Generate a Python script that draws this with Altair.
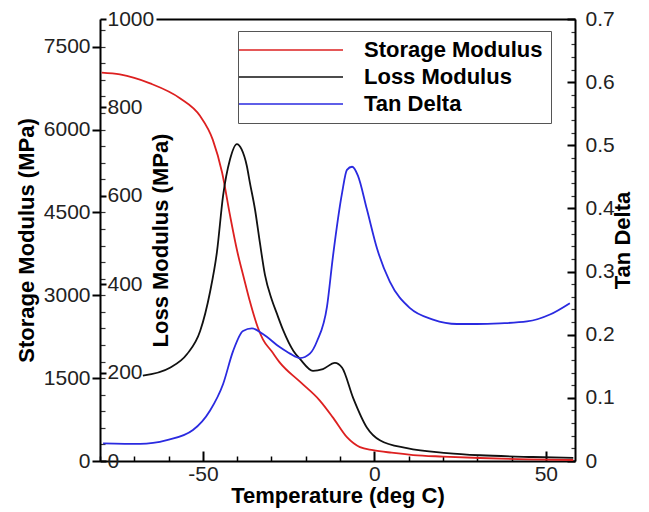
import altair as alt
import pandas as pd

# ---------------- data ----------------
temp_storage = [-79.5, -74.2, -65.4, -56.7, -50.8, -47.1, -44.4, -42.1, -40.0, -38.0,
                -36.3, -34.0, -32.5, -30.0, -27.5, -21.7, -15.9, -12.1, -8.0, -4.2,
                -0.4, 5.0, 11.3, 20.0, 30.8, 45.0, 58.0]
storage_mpa = [7030, 6997, 6835, 6566, 6243, 5813, 5221, 4449, 3800, 3300,
               2890, 2420, 2200, 1990, 1776, 1435, 1094, 789, 431, 251,
               197, 150, 108, 80, 54, 30, 18]

temp_loss = [-67.5, -59.6, -54.6, -50.8, -47.9, -45.9, -44.1, -42.1, -40.1, -38.7,
             -37.2, -36.3, -34.8, -33.4, -31.9, -29.9, -28.5, -26.6, -23.6, -21.7,
             -17.9, -15.0, -11.5, -9.4, -6.2, -2.2, 1.6, 9.5, 21.2, 30.8, 46.2, 58.0]
loss_mpa = [193, 211, 242, 294, 383, 473, 601, 682, 717, 705,
            668, 630, 569, 495, 421, 365, 335, 296, 249, 231,
            204, 208, 222, 211, 143, 76, 47, 29, 18, 13, 9, 7]

temp_tan = [-79.1, -68.3, -60.5, -52.9, -47.9, -44.1, -41.2, -38.3, -35.7, -32.5,
            -27.5, -24.6, -21.7, -18.8, -16.7, -13.8, -12.1, -9.4, -8.0, -6.5,
            -4.8, -2.2, 0.8, 4.5, 10.4, 17.1, 24.1, 29.9, 36.6, 44.5, 51.2, 57.0]
tan_delta = [0.028, 0.027, 0.033, 0.049, 0.080, 0.122, 0.174, 0.206, 0.210, 0.201,
             0.180, 0.170, 0.163, 0.170, 0.190, 0.245, 0.323, 0.425, 0.461, 0.466,
             0.452, 0.399, 0.336, 0.284, 0.242, 0.224, 0.217, 0.217, 0.218, 0.221, 0.232, 0.250]

series_names = ["Storage Modulus", "Loss Modulus", "Tan Delta"]
series_colors = ["#dd2020", "#111111", "#2a2ae0"]

x_ticks = [-50, 0, 50]
x_minor = [-80, -70, -60, -40, -30, -20, -10, 10, 20, 30, 40]
storage_ticks = [0, 1500, 3000, 4500, 6000, 7500]
storage_minor = [v for v in range(0, 8001, 300)]
loss_ticks = [0, 200, 400, 600, 800, 1000]
tan_ticks = [0, 0.1, 0.2, 0.3, 0.4, 0.5, 0.6, 0.7]
tan_minor = [round(i * 0.02, 2) for i in range(36)]

# ---------------- tables ----------------
df_s = pd.DataFrame({"T": temp_storage, "v": storage_mpa, "series": series_names[0]})
df_l = pd.DataFrame({"T": temp_loss, "v": loss_mpa, "series": series_names[1]})
df_t = pd.DataFrame({"T": temp_tan, "v": tan_delta, "series": series_names[2]})

FONT = "Liberation Sans"
W, H = 475, 442
XDOM = [-80, 58.5]
LBL = "'' + datum.value"

xscale = alt.Scale(domain=XDOM, nice=False, zero=False)
s_scale = alt.Scale(domain=[0, 8000], nice=False, zero=False)
l_scale = alt.Scale(domain=[0, 1000], nice=False, zero=False)
t_scale = alt.Scale(domain=[0, 0.7], nice=False, zero=False)

legend = alt.Legend(
    orient="none", legendX=138, legendY=12, title=None,
    symbolType="M-1.8,0H8.6", symbolSize=400, symbolStrokeWidth=1.6,
    labelFont=FONT, labelFontSize=22, labelFontWeight="bold", labelColor="black",
    labelOffset=96, rowPadding=5, padding=8, labelLimit=400,
    strokeColor="#555555", fillColor="white",
)
color = alt.Color("series:N",
                  scale=alt.Scale(domain=series_names, range=series_colors),
                  legend=legend)

common_lbl = dict(labelFont=FONT, labelFontSize=21, labelColor="#222222",
                  titleFont=FONT, titleFontSize=22, titleFontWeight="bold",
                  titleColor="black", grid=False, labelExpr=LBL)

# Storage modulus (left outer axis, bottom x axis)
storage = alt.Chart(df_s).mark_line(strokeWidth=1.8, interpolate="monotone").encode(
    x=alt.X("T:Q", scale=xscale, axis=alt.Axis(
        orient="bottom", values=x_ticks, ticks=False, tickSize=0, domain=True,
        domainColor="black", domainWidth=2, labelPadding=2,
        title="Temperature (deg C)", titleY=34, titleBaseline="middle", **common_lbl)),
    y=alt.Y("v:Q", scale=s_scale, axis=alt.Axis(
        orient="left", values=storage_ticks, tickSize=8, tickWidth=2, tickColor="black",
        domain=True, domainColor="black", domainWidth=2, labelPadding=2,
        title="Storage Modulus (MPa)", titleX=-74, titleAngle=270,
        titleBaseline="middle", **common_lbl)),
    color=color,
)

# Loss modulus (axis drawn on the left edge, labels inside)
loss = alt.Chart(df_l).mark_line(strokeWidth=1.8, interpolate="monotone").encode(
    x=alt.X("T:Q", scale=xscale, axis=alt.Axis(
        orient="top", offset=-H, values=x_ticks, tickSize=10, tickWidth=2,
        tickColor="black", labels=False, domain=False, title=None, grid=False)),
    y=alt.Y("v:Q", scale=l_scale, axis=alt.Axis(
        orient="right", offset=-W, values=loss_ticks, tickSize=6, tickWidth=2,
        tickColor="black", domain=False, labelPadding=1,
        title="Loss Modulus (MPa)", titleX=60, titleAngle=270,
        titleBaseline="middle", **common_lbl)),
    color=color,
)

# Tan delta (right axis) + top frame line
tan = alt.Chart(df_t).mark_line(strokeWidth=1.8, interpolate="monotone").encode(
    x=alt.X("T:Q", scale=xscale, axis=alt.Axis(
        orient="top", ticks=False, labels=False, domain=True, domainColor="black",
        domainWidth=2, domainDash=[0, 56, 1000, 0], title=None, grid=False)),
    y=alt.Y("v:Q", scale=t_scale, axis=alt.Axis(
        orient="right", values=tan_ticks, ticks=False, tickSize=0, domain=True,
        domainColor="black", domainWidth=2, labelPadding=10,
        title="Tan Delta", titleX=47, titleAngle=270, titleBaseline="middle",
        **common_lbl)),
    color=color,
)

# Inward tick marks (invisible helper layers)
tan_major_ticks = alt.Chart(df_t).mark_line(strokeOpacity=0).encode(
    x=alt.X("T:Q", scale=xscale, axis=alt.Axis(
        orient="top", offset=-H, values=x_minor, tickSize=5, tickWidth=1.5,
        tickColor="black", labels=False, domain=False, title=None, grid=False)),
    y=alt.Y("v:Q", scale=t_scale, axis=alt.Axis(
        orient="left", offset=-W, values=tan_ticks, tickSize=8, tickWidth=2,
        tickColor="black", labels=False, domain=False, title=None, grid=False)),
)
tan_minor_ticks = alt.Chart(df_t).mark_line(strokeOpacity=0).encode(
    x=alt.X("T:Q", scale=xscale, axis=None),
    y=alt.Y("v:Q", scale=t_scale, axis=alt.Axis(
        orient="left", offset=-W, values=tan_minor, tickSize=4, tickWidth=1.2,
        tickColor="#333333", labels=False, domain=False, title=None, grid=False)),
)
storage_minor_ticks = alt.Chart(df_s).mark_line(strokeOpacity=0).encode(
    x=alt.X("T:Q", scale=xscale, axis=None),
    y=alt.Y("v:Q", scale=s_scale, axis=alt.Axis(
        orient="right", offset=-W, values=storage_minor, tickSize=5, tickWidth=1.2,
        tickColor="#333333", labels=False, domain=False, title=None, grid=False)),
)

chart = alt.layer(
    storage_minor_ticks, tan_minor_ticks, tan_major_ticks, storage, loss, tan
).resolve_scale(
    y="independent", x="shared", color="shared"
).resolve_axis(
    y="independent", x="independent"
).properties(
    width=W, height=H,
    autosize=alt.AutoSizeParams(type="none"),
    padding={"left": 92, "top": 11, "right": 66, "bottom": 50},
).configure_view(stroke=None)

chart.save("out.html", embed_options={"renderer": "svg", "actions": False})
